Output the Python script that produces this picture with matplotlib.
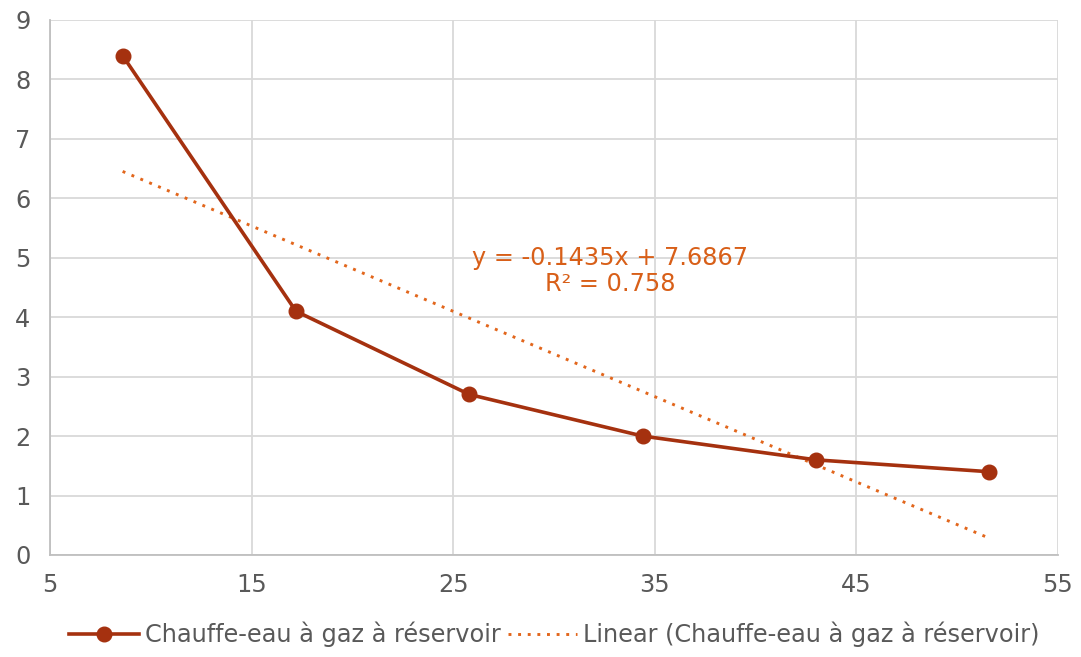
import numpy as np
import matplotlib.pyplot as plt

# Capacité du réservoir vs. consommation
x_vals = [8.6, 17.2, 25.8, 34.4, 43.0, 51.6]
y_vals = [8.4, 4.1, 2.7, 2.0, 1.6, 1.4]
series_name = "Chauffe-eau à gaz à réservoir"
x_ticks = [5, 15, 25, 35, 45, 55]
y_ticks = list(range(0, 10))

LINE_COLOR = "#A5310F"
TREND_COLOR = "#E2661C"
LABEL_COLOR = "#D85F18"
TEXT_COLOR = "#595959"
FS = 17.3

plt.rcParams["font.family"] = ["DejaVu Sans"]

fig = plt.figure(figsize=(10.81, 6.57), dpi=100)
ax = fig.add_axes([0.0463, 0.1553, 0.9324, 0.8143])

# linear trend fitted from the series
slope, intercept = np.polyfit(x_vals, y_vals, 1)
pred = np.polyval([slope, intercept], x_vals)
r2 = 1 - np.sum((np.array(y_vals) - pred) ** 2) / np.sum((np.array(y_vals) - np.mean(y_vals)) ** 2)

ax.plot(x_vals, y_vals, color=LINE_COLOR, lw=2.6, marker="o", ms=10.5,
        label=series_name, zorder=3)
ax.plot([x_vals[0], x_vals[-1]], np.polyval([slope, intercept], [x_vals[0], x_vals[-1]]),
        color=TREND_COLOR, lw=2.1, ls=(0, (1, 2.3)),
        label="Linear (" + series_name + ")", zorder=2)

ax.text(32.8, 4.77, "y = {:.4f}x + {:.4f}\nR² = {:.3f}".format(slope, intercept, r2),
        ha="center", va="center", color=LABEL_COLOR, fontsize=FS, linespacing=1.1)

ax.set_xlim(5, 55)
ax.set_ylim(0, 9)
ax.set_xticks(x_ticks)
ax.set_yticks(y_ticks)
ax.grid(True, color="#D9D9D9", lw=1.3)
ax.set_axisbelow(True)
for side in ["top", "right", "left", "bottom"]:
    ax.spines[side].set_color("#BFBFBF")
    ax.spines[side].set_linewidth(1.3)
ax.spines["top"].set_visible(False)
ax.spines["right"].set_visible(False)
ax.tick_params(length=0, labelsize=FS, labelcolor=TEXT_COLOR)
ax.tick_params(axis="y", pad=14)
ax.tick_params(axis="x", pad=13)

fig.legend(loc="lower center", bbox_to_anchor=(0.513, -0.018), ncol=2, frameon=False,
           fontsize=FS, labelcolor=TEXT_COLOR, handlelength=2.9, handletextpad=0.25,
           columnspacing=0.3)

fig.savefig("out.png", dpi=100)
